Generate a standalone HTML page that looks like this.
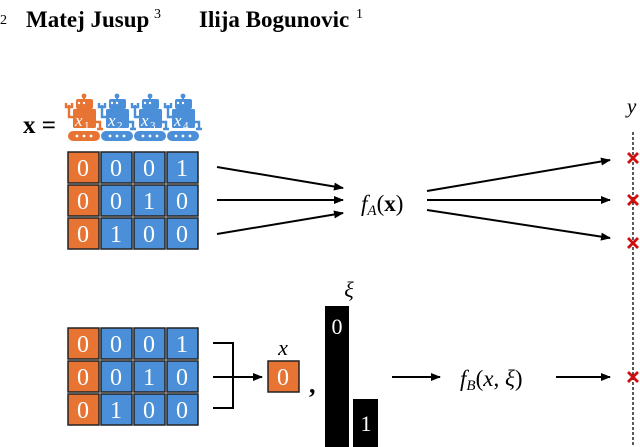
<!DOCTYPE html>
<html><head><meta charset="utf-8"><style>
body{margin:0;background:#fff;}
svg{display:block;}
text{font-family:"Liberation Serif",serif;}
</style></head><body>
<svg width="640" height="447" viewBox="0 0 640 447" xmlns="http://www.w3.org/2000/svg">
<defs>
<marker id="ah" markerWidth="10" markerHeight="8" refX="9" refY="4" orient="auto" markerUnits="userSpaceOnUse">
<path d="M0,0 L10,4 L0,8 Z" fill="#000"/></marker>
<g id="robot">
 <circle cx="16" cy="3" r="2.4" fill="currentColor"/>
 <rect x="15" y="3" width="2" height="4" fill="currentColor"/>
 <rect x="8" y="6" width="17" height="10" rx="2" fill="currentColor"/>
 <rect x="5" y="16" width="23" height="19" rx="1.5" fill="currentColor"/>
 <path d="M5,24 H1 V12 M-2,10 V14 H4 V10" fill="none" stroke-width="2.4" stroke="currentColor"/>
 <path d="M28,29 H32 V35 M29,36 H35" fill="none" stroke-width="2.4" stroke="currentColor"/>
 <rect x="0" y="38" width="32" height="10" rx="5" fill="currentColor"/>
 <circle cx="11" cy="10" r="1.2" fill="#fff"/><circle cx="16" cy="10" r="1.2" fill="#fff"/>
 <circle cx="9" cy="43" r="1.4" fill="#fff"/><circle cx="16" cy="43" r="1.4" fill="#fff"/><circle cx="23" cy="43" r="1.4" fill="#fff"/>
</g>
</defs>

<text x="0" y="24" font-size="14">2</text>
<text x="26" y="27" font-size="23" font-weight="bold">Matej Jusup</text>
<text x="154" y="18" font-size="14">3</text>
<text x="199" y="27" font-size="23" font-weight="bold">Ilija Bogunovic</text>
<text x="356" y="18" font-size="14">1</text>

<text x="23" y="133" font-size="25" font-weight="bold">x =</text>

<g transform="translate(68,93)" color="#e87434"><use href="#robot"/></g>
<g transform="translate(101,93)" color="#4a8fd8"><use href="#robot"/></g>
<g transform="translate(134,93)" color="#4a8fd8"><use href="#robot"/></g>
<g transform="translate(167,93)" color="#4a8fd8"><use href="#robot"/></g>
<g font-size="17" font-style="italic" fill="#fff">
<text x="75" y="126">x</text><text x="84" y="129" font-size="11" font-style="normal">1</text>
<text x="108" y="126">x</text><text x="117" y="129" font-size="11" font-style="normal">2</text>
<text x="141" y="126">x</text><text x="150" y="129" font-size="11" font-style="normal">3</text>
<text x="174" y="126">x</text><text x="183" y="129" font-size="11" font-style="normal">4</text>
</g>

<!-- top grid -->
<g stroke="#222" stroke-width="1.5" font-size="24" fill="#fff" text-anchor="middle">
<g>
<rect x="68" y="152" width="31" height="31" fill="#e87434"/>
<rect x="101" y="152" width="31" height="31" fill="#4a8fd8"/>
<rect x="134" y="152" width="31" height="31" fill="#4a8fd8"/>
<rect x="167" y="152" width="31" height="31" fill="#4a8fd8"/>
<rect x="68" y="185" width="31" height="31" fill="#e87434"/>
<rect x="101" y="185" width="31" height="31" fill="#4a8fd8"/>
<rect x="134" y="185" width="31" height="31" fill="#4a8fd8"/>
<rect x="167" y="185" width="31" height="31" fill="#4a8fd8"/>
<rect x="68" y="218" width="31" height="31" fill="#e87434"/>
<rect x="101" y="218" width="31" height="31" fill="#4a8fd8"/>
<rect x="134" y="218" width="31" height="31" fill="#4a8fd8"/>
<rect x="167" y="218" width="31" height="31" fill="#4a8fd8"/>
</g>
<g stroke="none">
<text x="83" y="176">0</text><text x="116" y="176">0</text><text x="149" y="176">0</text><text x="182" y="176">1</text>
<text x="83" y="209">0</text><text x="116" y="209">0</text><text x="149" y="209">1</text><text x="182" y="209">0</text>
<text x="83" y="242">0</text><text x="116" y="242">1</text><text x="149" y="242">0</text><text x="182" y="242">0</text>
</g>
</g>

<!-- top arrows -->
<g stroke="#000" stroke-width="2" marker-end="url(#ah)">
<line x1="217" y1="167" x2="343" y2="188"/>
<line x1="217" y1="200" x2="343" y2="200"/>
<line x1="217" y1="234" x2="343" y2="213"/>
<line x1="427" y1="191" x2="610" y2="160"/>
<line x1="427" y1="200" x2="610" y2="200"/>
<line x1="427" y1="210" x2="610" y2="238"/>
</g>
<text x="361" y="211" font-size="23"><tspan font-style="italic">f</tspan><tspan font-size="15" font-style="italic" dy="4">A</tspan><tspan dy="-4">(</tspan><tspan font-weight="bold">x</tspan>)</text>

<!-- y axis -->
<text x="627" y="113" font-size="21" font-style="italic">y</text>
<line x1="633" y1="132" x2="633" y2="447" stroke="#000" stroke-width="1.3" stroke-dasharray="3,2"/>
<g stroke="#d01010" stroke-width="2.8">
<path d="M628,153 l10,10 m0,-10 l-10,10"/>
<path d="M628,195 l10,10 m0,-10 l-10,10"/>
<path d="M628,238 l10,10 m0,-10 l-10,10"/>
<path d="M628,372 l10,10 m0,-10 l-10,10"/>
</g>

<!-- bottom grid -->
<g stroke="#222" stroke-width="1.5" font-size="24" fill="#fff" text-anchor="middle">
<g>
<rect x="68" y="328" width="31" height="31" fill="#e87434"/>
<rect x="101" y="328" width="31" height="31" fill="#4a8fd8"/>
<rect x="134" y="328" width="31" height="31" fill="#4a8fd8"/>
<rect x="167" y="328" width="31" height="31" fill="#4a8fd8"/>
<rect x="68" y="361" width="31" height="31" fill="#e87434"/>
<rect x="101" y="361" width="31" height="31" fill="#4a8fd8"/>
<rect x="134" y="361" width="31" height="31" fill="#4a8fd8"/>
<rect x="167" y="361" width="31" height="31" fill="#4a8fd8"/>
<rect x="68" y="394" width="31" height="31" fill="#e87434"/>
<rect x="101" y="394" width="31" height="31" fill="#4a8fd8"/>
<rect x="134" y="394" width="31" height="31" fill="#4a8fd8"/>
<rect x="167" y="394" width="31" height="31" fill="#4a8fd8"/>
<rect x="268" y="361" width="31" height="31" fill="#e87434"/>
</g>
<g stroke="none">
<text x="83" y="352">0</text><text x="116" y="352">0</text><text x="149" y="352">0</text><text x="182" y="352">1</text>
<text x="83" y="385">0</text><text x="116" y="385">0</text><text x="149" y="385">1</text><text x="182" y="385">0</text>
<text x="83" y="418">0</text><text x="116" y="418">1</text><text x="149" y="418">0</text><text x="182" y="418">0</text>
<text x="283" y="385">0</text>
</g>
</g>

<!-- bracket -->
<path d="M213,343 H233 V408 H213" fill="none" stroke="#000" stroke-width="2"/>
<line x1="213" y1="377" x2="262" y2="377" stroke="#000" stroke-width="2" marker-end="url(#ah)"/>
<text x="283" y="355" font-size="22" font-style="italic" text-anchor="middle">x</text>
<text x="309" y="393" font-size="26" font-weight="bold">,</text>

<!-- bars -->
<rect x="325" y="306" width="24" height="141" fill="#000"/>
<rect x="353" y="399" width="25" height="48" fill="#000"/>
<text x="337" y="334" font-size="22" fill="#fff" text-anchor="middle">0</text>
<text x="366" y="431" font-size="22" fill="#fff" text-anchor="middle">1</text>
<text x="349" y="297" font-size="22" font-style="italic" text-anchor="middle">ξ</text>

<g stroke="#000" stroke-width="2" marker-end="url(#ah)">
<line x1="392" y1="377" x2="440" y2="377"/>
<line x1="556" y1="377" x2="610" y2="377"/>
</g>
<text x="460" y="386" font-size="23"><tspan font-style="italic">f</tspan><tspan font-size="15" font-style="italic" dy="4">B</tspan><tspan dy="-4">(</tspan><tspan font-style="italic">x</tspan>, <tspan font-style="italic">ξ</tspan>)</text>
</svg>
</body></html>
